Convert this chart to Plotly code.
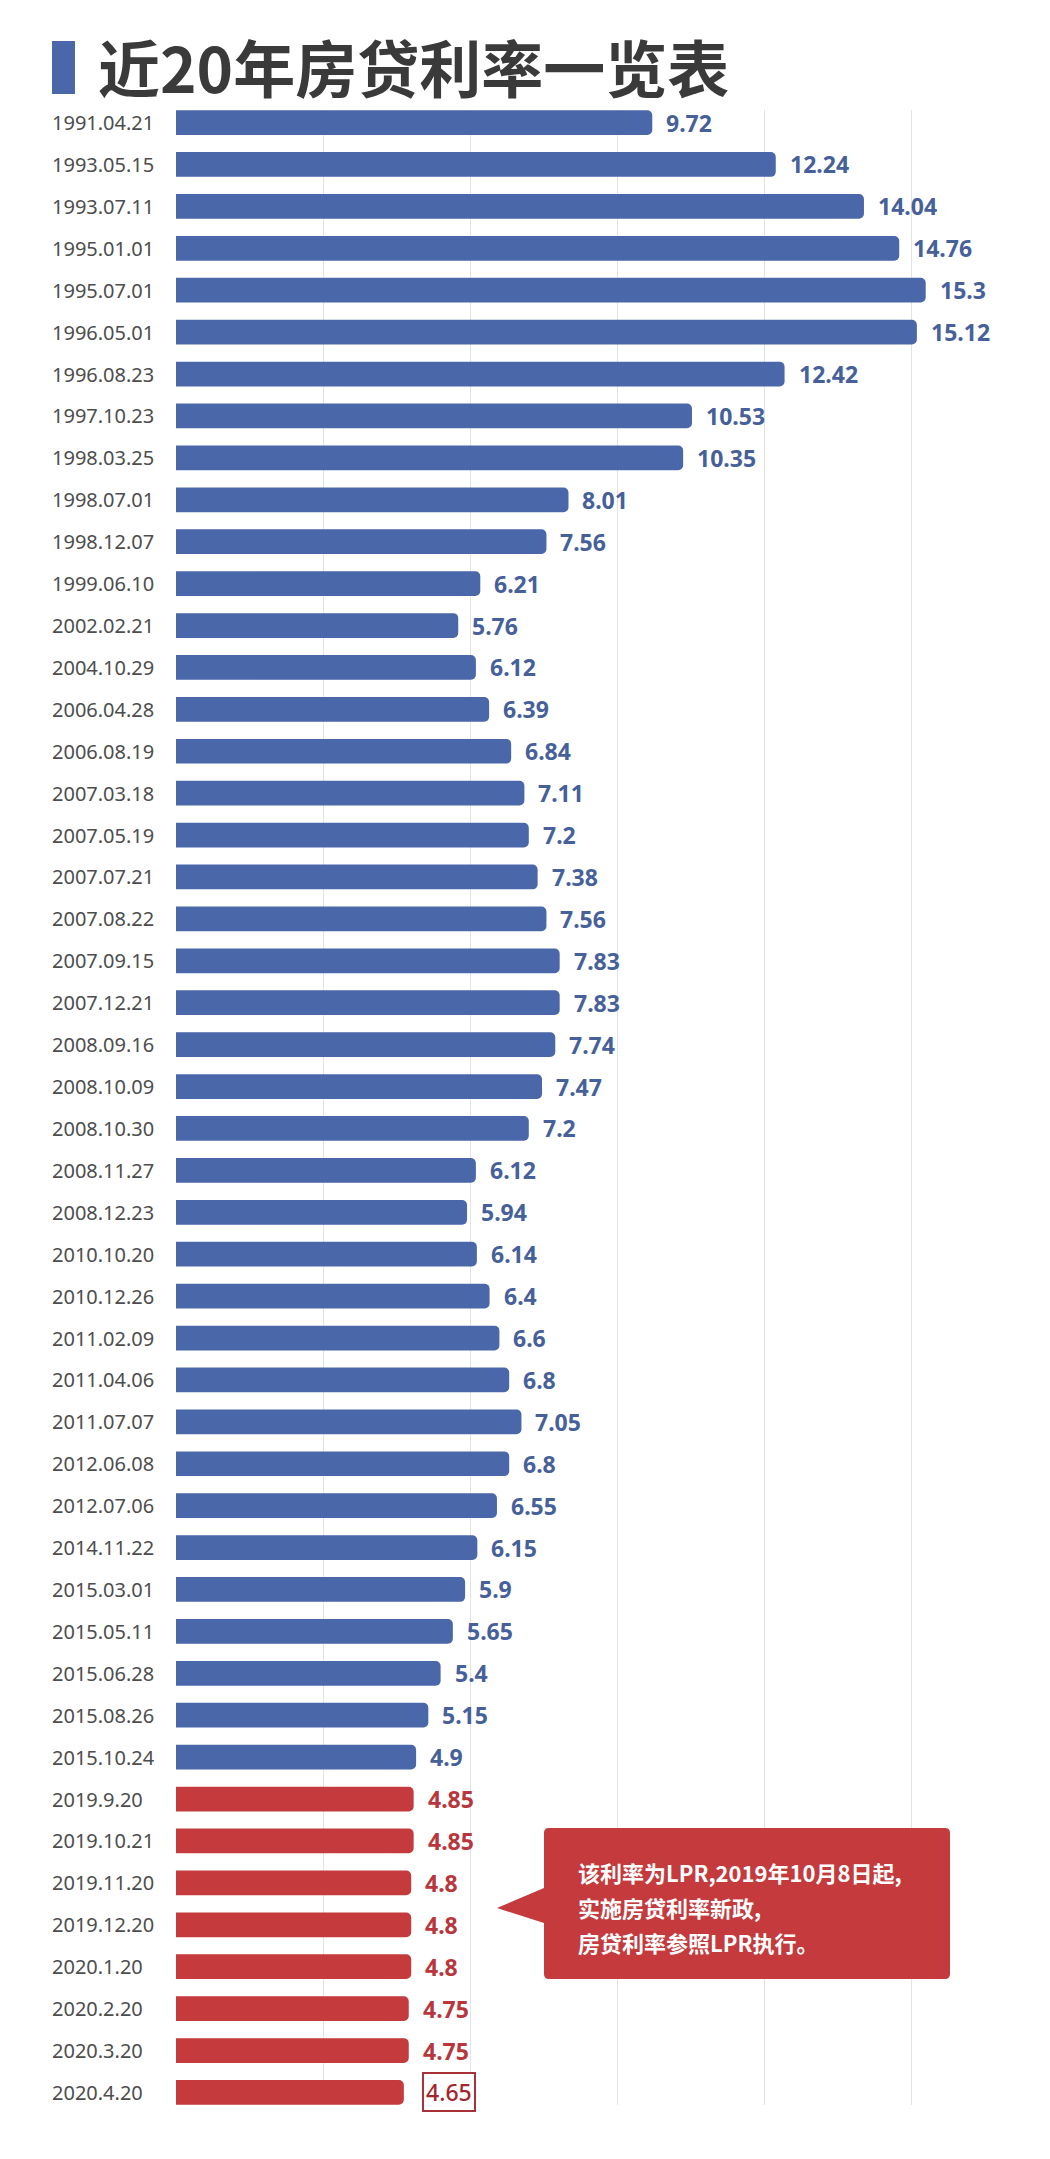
import plotly.graph_objects as go

# ---------------- data ----------------
benchmark_dates = [
    "1991.04.21", "1993.05.15", "1993.07.11", "1995.01.01", "1995.07.01",
    "1996.05.01", "1996.08.23", "1997.10.23", "1998.03.25", "1998.07.01",
    "1998.12.07", "1999.06.10", "2002.02.21", "2004.10.29", "2006.04.28",
    "2006.08.19", "2007.03.18", "2007.05.19", "2007.07.21", "2007.08.22",
    "2007.09.15", "2007.12.21", "2008.09.16", "2008.10.09", "2008.10.30",
    "2008.11.27", "2008.12.23", "2010.10.20", "2010.12.26", "2011.02.09",
    "2011.04.06", "2011.07.07", "2012.06.08", "2012.07.06", "2014.11.22",
    "2015.03.01", "2015.05.11", "2015.06.28", "2015.08.26", "2015.10.24",
]
benchmark_rates = [
    9.72, 12.24, 14.04, 14.76, 15.3,
    15.12, 12.42, 10.53, 10.35, 8.01,
    7.56, 6.21, 5.76, 6.12, 6.39,
    6.84, 7.11, 7.2, 7.38, 7.56,
    7.83, 7.83, 7.74, 7.47, 7.2,
    6.12, 5.94, 6.14, 6.4, 6.6,
    6.8, 7.05, 6.8, 6.55, 6.15,
    5.9, 5.65, 5.4, 5.15, 4.9,
]
lpr_dates = [
    "2019.9.20", "2019.10.21", "2019.11.20", "2019.12.20",
    "2020.1.20", "2020.2.20", "2020.3.20", "2020.4.20",
]
lpr_rates = [4.85, 4.85, 4.8, 4.8, 4.8, 4.75, 4.75, 4.65]

title_text = "近20年房贷利率一览表"
note_lines = ["该利率为LPR,2019年10月8日起,", "实施房贷利率新政,", "房贷利率参照LPR执行。"]

# ---------------- layout helpers ----------------
FIG_W, FIG_H = 1050, 2159
M_L, M_R, M_T, M_B = 176, 20, 110, 54
PW = FIG_W - M_L - M_R
PH = FIG_H - M_T - M_B
PX_PER_UNIT = 49.0
X_MAX = PW / PX_PER_UNIT


def px(xp):
    return (xp - M_L) / PW


def py(yp):
    return 1 - (yp - M_T) / PH


BLUE = "#4a67aa"
RED = "#c43a3d"
BLUE_TXT = "#46609a"
RED_TXT = "#b8363c"
FONT = "Noto Sans, Noto Sans CJK SC, sans-serif"
CJK = "Noto Sans CJK SC, Noto Sans, sans-serif"

all_dates = benchmark_dates + lpr_dates
n = len(all_dates)

fig = go.Figure()
fig.add_trace(go.Bar(
    y=benchmark_dates, x=benchmark_rates, orientation="h",
    marker=dict(color=BLUE, cornerradius=5, line=dict(width=0)),
    width=0.59, hoverinfo="x+y", showlegend=False,
))
fig.add_trace(go.Bar(
    y=lpr_dates, x=lpr_rates, orientation="h",
    marker=dict(color=RED, cornerradius=5, line=dict(width=0)),
    width=0.59, hoverinfo="x+y", showlegend=False,
))

annotations = []
# category labels (left aligned)
for d in all_dates:
    annotations.append(dict(
        x=px(50), xref="paper", y=d, yref="y", text=d, showarrow=False,
        xanchor="left", yanchor="middle",
        font=dict(family=FONT, size=20, color="#4d4d4d"),
    ))
# value labels
for d, v in zip(benchmark_dates, benchmark_rates):
    annotations.append(dict(
        x=v, xref="x", y=d, yref="y", text=str(v), showarrow=False,
        xanchor="left", yanchor="middle", xshift=12,
        font=dict(family=FONT, size=23, color=BLUE_TXT, weight="bold"),
    ))
for i, (d, v) in enumerate(zip(lpr_dates, lpr_rates)):
    if i == len(lpr_dates) - 1:
        annotations.append(dict(
            x=v, xref="x", y=d, yref="y", text=str(v), showarrow=False,
            xanchor="left", yanchor="middle", xshift=18,
            font=dict(family=FONT, size=23, color="#a3262e", weight=500),
            bordercolor="#a8323a", borderwidth=2, borderpad=2, bgcolor="white",
        ))
    else:
        annotations.append(dict(
            x=v, xref="x", y=d, yref="y", text=str(v), showarrow=False,
            xanchor="left", yanchor="middle", xshift=12,
            font=dict(family=FONT, size=23, color=RED_TXT, weight="bold"),
        ))

# title
annotations.append(dict(
    x=px(96), xref="paper", y=py(66), yref="paper", text=title_text,
    showarrow=False, xanchor="left", yanchor="middle",
    font=dict(family=CJK, size=62, color="#3a3a3a", weight="bold"),
))

# callout text
for line, yy in zip(note_lines, [1872, 1907, 1942]):
    annotations.append(dict(
        x=px(576), xref="paper", y=py(yy), yref="paper", text=line,
        showarrow=False, xanchor="left", yanchor="middle",
        font=dict(family=CJK, size=22, color="white", weight="bold"),
    ))

# callout shape
bx1, bx2, by1, by2, r = 544, 950, 1828, 1979, 5
tipx, tipy, tb1, tb2 = 497, 1908, 1888, 1923
pts = [
    ("M", [(bx1 + r, by1)]),
    ("L", [(bx2 - r, by1)]),
    ("Q", [(bx2, by1), (bx2, by1 + r)]),
    ("L", [(bx2, by2 - r)]),
    ("Q", [(bx2, by2), (bx2 - r, by2)]),
    ("L", [(bx1 + r, by2)]),
    ("Q", [(bx1, by2), (bx1, by2 - r)]),
    ("L", [(bx1, tb2)]),
    ("L", [(tipx, tipy)]),
    ("L", [(bx1, tb1)]),
    ("L", [(bx1, by1 + r)]),
    ("Q", [(bx1, by1), (bx1 + r, by1)]),
]
path = ""
for cmd, coords in pts:
    path += cmd + " " + " ".join(f"{px(a):.5f},{py(b):.5f}" for a, b in coords) + " "
path += "Z"

shapes = [
    dict(type="path", xref="paper", yref="paper", path=path,
         fillcolor=RED, line=dict(width=0), layer="above"),
    dict(type="rect", xref="paper", yref="paper",
         x0=px(52), x1=px(75), y0=py(41), y1=py(94),
         fillcolor=BLUE, line=dict(width=0)),
]

fig.update_layout(
    width=FIG_W, height=FIG_H, autosize=False,
    margin=dict(l=M_L, r=M_R, t=M_T, b=M_B, pad=0),
    paper_bgcolor="white", plot_bgcolor="white",
    barmode="overlay",
    showlegend=False,
    xaxis=dict(range=[0, X_MAX], dtick=3, tick0=0, showgrid=True,
               gridcolor="#e3e3e3", gridwidth=1, zeroline=False,
               showticklabels=False, showline=False, ticks=""),
    yaxis=dict(type="category", categoryorder="array", categoryarray=all_dates,
               range=[n - 1 + 0.3, -0.3], showticklabels=False, showgrid=False,
               zeroline=False, showline=False, ticks=""),
    annotations=annotations,
    shapes=shapes,
)

fig.write_html("out.html", config={"displayModeBar": False},
               post_script="document.body.style.margin='0';")
